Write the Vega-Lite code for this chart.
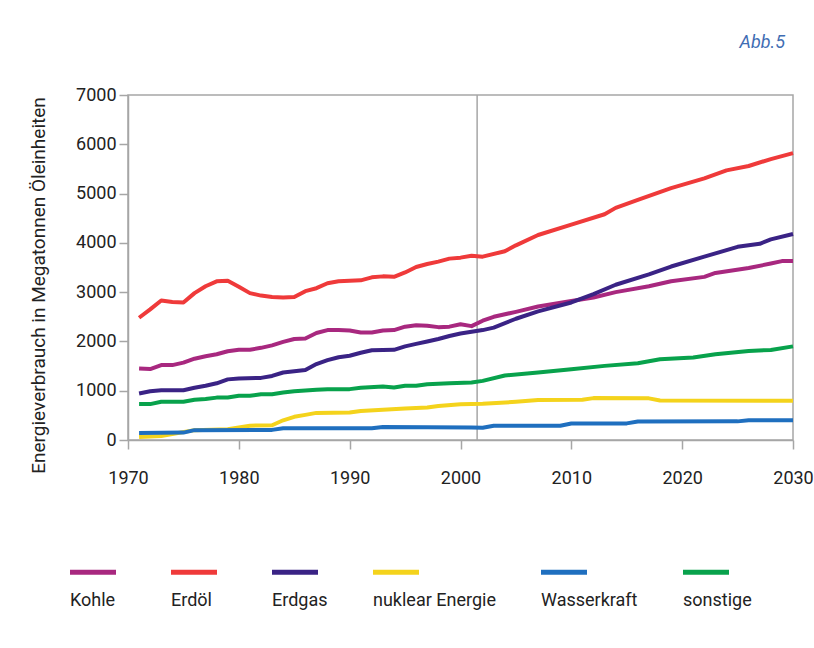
{
  "$schema": "https://vega.github.io/schema/vega-lite/v6.json",
  "width": 665,
  "height": 345,
  "autosize": {"type": "none"},
  "padding": {"left": 128, "top": 95, "right": 21, "bottom": 208},
  "background": "white",
  "title": {"text": "Abb.5", "anchor": "end", "frame": "group", "orient": "top", "font": "Roboto", "fontSize": 18, "fontStyle": "italic", "fontWeight": "normal", "color": "#3f6db3", "dx": -8, "offset": 20, "baseline": "alphabetic"},
  "config": {
    "font": "Roboto",
    "view": {"stroke": "#a6a6a6", "strokeWidth": 1.5},
    "axis": {"grid": false, "domainColor": "#a6a6a6", "domainWidth": 1.5, "tickColor": "#a6a6a6", "tickWidth": 1.5, "labelFont": "Roboto", "labelFontSize": 18, "labelColor": "#222222", "titleFont": "Roboto", "titleColor": "#222222", "titleFontWeight": "normal"}
  },
  "datasets": {
    "energie": [
      {"jahr":1971,"wert":1450,"traeger":"Kohle"},{"jahr":1972,"wert":1440,"traeger":"Kohle"},{"jahr":1973,"wert":1520,"traeger":"Kohle"},{"jahr":1974,"wert":1520,"traeger":"Kohle"},{"jahr":1975,"wert":1570,"traeger":"Kohle"},{"jahr":1976,"wert":1650,"traeger":"Kohle"},{"jahr":1977,"wert":1700,"traeger":"Kohle"},{"jahr":1978,"wert":1740,"traeger":"Kohle"},{"jahr":1979,"wert":1800,"traeger":"Kohle"},{"jahr":1980,"wert":1830,"traeger":"Kohle"},{"jahr":1981,"wert":1830,"traeger":"Kohle"},{"jahr":1982,"wert":1870,"traeger":"Kohle"},{"jahr":1983,"wert":1920,"traeger":"Kohle"},{"jahr":1984,"wert":1990,"traeger":"Kohle"},{"jahr":1985,"wert":2050,"traeger":"Kohle"},{"jahr":1986,"wert":2060,"traeger":"Kohle"},{"jahr":1987,"wert":2170,"traeger":"Kohle"},{"jahr":1988,"wert":2230,"traeger":"Kohle"},{"jahr":1989,"wert":2230,"traeger":"Kohle"},{"jahr":1990,"wert":2220,"traeger":"Kohle"},{"jahr":1991,"wert":2180,"traeger":"Kohle"},{"jahr":1992,"wert":2180,"traeger":"Kohle"},{"jahr":1993,"wert":2220,"traeger":"Kohle"},{"jahr":1994,"wert":2230,"traeger":"Kohle"},{"jahr":1995,"wert":2300,"traeger":"Kohle"},{"jahr":1996,"wert":2330,"traeger":"Kohle"},{"jahr":1997,"wert":2320,"traeger":"Kohle"},{"jahr":1998,"wert":2290,"traeger":"Kohle"},{"jahr":1999,"wert":2300,"traeger":"Kohle"},{"jahr":2000,"wert":2350,"traeger":"Kohle"},{"jahr":2001,"wert":2310,"traeger":"Kohle"},{"jahr":2002,"wert":2420,"traeger":"Kohle"},{"jahr":2003,"wert":2500,"traeger":"Kohle"},{"jahr":2005,"wert":2600,"traeger":"Kohle"},{"jahr":2007,"wert":2710,"traeger":"Kohle"},{"jahr":2010,"wert":2820,"traeger":"Kohle"},{"jahr":2012,"wert":2890,"traeger":"Kohle"},{"jahr":2014,"wert":3000,"traeger":"Kohle"},{"jahr":2017,"wert":3120,"traeger":"Kohle"},{"jahr":2019,"wert":3220,"traeger":"Kohle"},{"jahr":2022,"wert":3310,"traeger":"Kohle"},{"jahr":2023,"wert":3390,"traeger":"Kohle"},{"jahr":2026,"wert":3490,"traeger":"Kohle"},{"jahr":2028,"wert":3580,"traeger":"Kohle"},{"jahr":2029,"wert":3630,"traeger":"Kohle"},{"jahr":2030,"wert":3630,"traeger":"Kohle"},
      {"jahr":1971,"wert":2480,"traeger":"Erdöl"},{"jahr":1972,"wert":2650,"traeger":"Erdöl"},{"jahr":1973,"wert":2830,"traeger":"Erdöl"},{"jahr":1974,"wert":2800,"traeger":"Erdöl"},{"jahr":1975,"wert":2790,"traeger":"Erdöl"},{"jahr":1976,"wert":2980,"traeger":"Erdöl"},{"jahr":1977,"wert":3120,"traeger":"Erdöl"},{"jahr":1978,"wert":3220,"traeger":"Erdöl"},{"jahr":1979,"wert":3230,"traeger":"Erdöl"},{"jahr":1980,"wert":3110,"traeger":"Erdöl"},{"jahr":1981,"wert":2980,"traeger":"Erdöl"},{"jahr":1982,"wert":2930,"traeger":"Erdöl"},{"jahr":1983,"wert":2900,"traeger":"Erdöl"},{"jahr":1984,"wert":2890,"traeger":"Erdöl"},{"jahr":1985,"wert":2900,"traeger":"Erdöl"},{"jahr":1986,"wert":3020,"traeger":"Erdöl"},{"jahr":1987,"wert":3080,"traeger":"Erdöl"},{"jahr":1988,"wert":3180,"traeger":"Erdöl"},{"jahr":1989,"wert":3220,"traeger":"Erdöl"},{"jahr":1990,"wert":3230,"traeger":"Erdöl"},{"jahr":1991,"wert":3240,"traeger":"Erdöl"},{"jahr":1992,"wert":3300,"traeger":"Erdöl"},{"jahr":1993,"wert":3320,"traeger":"Erdöl"},{"jahr":1994,"wert":3310,"traeger":"Erdöl"},{"jahr":1995,"wert":3400,"traeger":"Erdöl"},{"jahr":1996,"wert":3510,"traeger":"Erdöl"},{"jahr":1997,"wert":3570,"traeger":"Erdöl"},{"jahr":1998,"wert":3620,"traeger":"Erdöl"},{"jahr":1999,"wert":3680,"traeger":"Erdöl"},{"jahr":2000,"wert":3700,"traeger":"Erdöl"},{"jahr":2001,"wert":3740,"traeger":"Erdöl"},{"jahr":2002,"wert":3720,"traeger":"Erdöl"},{"jahr":2004,"wert":3830,"traeger":"Erdöl"},{"jahr":2005,"wert":3950,"traeger":"Erdöl"},{"jahr":2007,"wert":4160,"traeger":"Erdöl"},{"jahr":2010,"wert":4370,"traeger":"Erdöl"},{"jahr":2013,"wert":4580,"traeger":"Erdöl"},{"jahr":2014,"wert":4710,"traeger":"Erdöl"},{"jahr":2016,"wert":4870,"traeger":"Erdöl"},{"jahr":2019,"wert":5110,"traeger":"Erdöl"},{"jahr":2022,"wert":5310,"traeger":"Erdöl"},{"jahr":2024,"wert":5470,"traeger":"Erdöl"},{"jahr":2026,"wert":5560,"traeger":"Erdöl"},{"jahr":2028,"wert":5700,"traeger":"Erdöl"},{"jahr":2030,"wert":5820,"traeger":"Erdöl"},
      {"jahr":1971,"wert":945,"traeger":"Erdgas"},{"jahr":1972,"wert":990,"traeger":"Erdgas"},{"jahr":1973,"wert":1010,"traeger":"Erdgas"},{"jahr":1975,"wert":1010,"traeger":"Erdgas"},{"jahr":1976,"wert":1060,"traeger":"Erdgas"},{"jahr":1977,"wert":1100,"traeger":"Erdgas"},{"jahr":1978,"wert":1150,"traeger":"Erdgas"},{"jahr":1979,"wert":1230,"traeger":"Erdgas"},{"jahr":1980,"wert":1250,"traeger":"Erdgas"},{"jahr":1982,"wert":1260,"traeger":"Erdgas"},{"jahr":1983,"wert":1300,"traeger":"Erdgas"},{"jahr":1984,"wert":1370,"traeger":"Erdgas"},{"jahr":1986,"wert":1420,"traeger":"Erdgas"},{"jahr":1987,"wert":1540,"traeger":"Erdgas"},{"jahr":1988,"wert":1620,"traeger":"Erdgas"},{"jahr":1989,"wert":1680,"traeger":"Erdgas"},{"jahr":1990,"wert":1710,"traeger":"Erdgas"},{"jahr":1991,"wert":1770,"traeger":"Erdgas"},{"jahr":1992,"wert":1820,"traeger":"Erdgas"},{"jahr":1994,"wert":1830,"traeger":"Erdgas"},{"jahr":1995,"wert":1900,"traeger":"Erdgas"},{"jahr":1996,"wert":1950,"traeger":"Erdgas"},{"jahr":1997,"wert":2000,"traeger":"Erdgas"},{"jahr":1998,"wert":2050,"traeger":"Erdgas"},{"jahr":1999,"wert":2110,"traeger":"Erdgas"},{"jahr":2000,"wert":2160,"traeger":"Erdgas"},{"jahr":2002,"wert":2230,"traeger":"Erdgas"},{"jahr":2003,"wert":2280,"traeger":"Erdgas"},{"jahr":2005,"wert":2460,"traeger":"Erdgas"},{"jahr":2007,"wert":2610,"traeger":"Erdgas"},{"jahr":2010,"wert":2790,"traeger":"Erdgas"},{"jahr":2012,"wert":2960,"traeger":"Erdgas"},{"jahr":2014,"wert":3150,"traeger":"Erdgas"},{"jahr":2017,"wert":3360,"traeger":"Erdgas"},{"jahr":2019,"wert":3520,"traeger":"Erdgas"},{"jahr":2022,"wert":3720,"traeger":"Erdgas"},{"jahr":2025,"wert":3920,"traeger":"Erdgas"},{"jahr":2027,"wert":3980,"traeger":"Erdgas"},{"jahr":2028,"wert":4070,"traeger":"Erdgas"},{"jahr":2030,"wert":4180,"traeger":"Erdgas"},
      {"jahr":1971,"wert":60,"traeger":"nuklear Energie"},{"jahr":1973,"wert":80,"traeger":"nuklear Energie"},{"jahr":1974,"wert":120,"traeger":"nuklear Energie"},{"jahr":1976,"wert":200,"traeger":"nuklear Energie"},{"jahr":1979,"wert":220,"traeger":"nuklear Energie"},{"jahr":1980,"wert":255,"traeger":"nuklear Energie"},{"jahr":1981,"wert":290,"traeger":"nuklear Energie"},{"jahr":1983,"wert":300,"traeger":"nuklear Energie"},{"jahr":1984,"wert":400,"traeger":"nuklear Energie"},{"jahr":1985,"wert":470,"traeger":"nuklear Energie"},{"jahr":1986,"wert":510,"traeger":"nuklear Energie"},{"jahr":1987,"wert":550,"traeger":"nuklear Energie"},{"jahr":1990,"wert":560,"traeger":"nuklear Energie"},{"jahr":1991,"wert":590,"traeger":"nuklear Energie"},{"jahr":1993,"wert":615,"traeger":"nuklear Energie"},{"jahr":1995,"wert":640,"traeger":"nuklear Energie"},{"jahr":1997,"wert":660,"traeger":"nuklear Energie"},{"jahr":1998,"wert":690,"traeger":"nuklear Energie"},{"jahr":2000,"wert":725,"traeger":"nuklear Energie"},{"jahr":2002,"wert":735,"traeger":"nuklear Energie"},{"jahr":2005,"wert":775,"traeger":"nuklear Energie"},{"jahr":2007,"wert":810,"traeger":"nuklear Energie"},{"jahr":2011,"wert":815,"traeger":"nuklear Energie"},{"jahr":2012,"wert":850,"traeger":"nuklear Energie"},{"jahr":2017,"wert":845,"traeger":"nuklear Energie"},{"jahr":2018,"wert":800,"traeger":"nuklear Energie"},{"jahr":2030,"wert":798,"traeger":"nuklear Energie"},
      {"jahr":1971,"wert":142,"traeger":"Wasserkraft"},{"jahr":1975,"wert":150,"traeger":"Wasserkraft"},{"jahr":1976,"wert":200,"traeger":"Wasserkraft"},{"jahr":1983,"wert":205,"traeger":"Wasserkraft"},{"jahr":1984,"wert":240,"traeger":"Wasserkraft"},{"jahr":1992,"wert":240,"traeger":"Wasserkraft"},{"jahr":1993,"wert":265,"traeger":"Wasserkraft"},{"jahr":2001,"wert":255,"traeger":"Wasserkraft"},{"jahr":2002,"wert":250,"traeger":"Wasserkraft"},{"jahr":2003,"wert":290,"traeger":"Wasserkraft"},{"jahr":2009,"wert":290,"traeger":"Wasserkraft"},{"jahr":2010,"wert":335,"traeger":"Wasserkraft"},{"jahr":2015,"wert":337,"traeger":"Wasserkraft"},{"jahr":2016,"wert":375,"traeger":"Wasserkraft"},{"jahr":2025,"wert":378,"traeger":"Wasserkraft"},{"jahr":2026,"wert":400,"traeger":"Wasserkraft"},{"jahr":2030,"wert":400,"traeger":"Wasserkraft"},
      {"jahr":1971,"wert":728,"traeger":"sonstige"},{"jahr":1972,"wert":728,"traeger":"sonstige"},{"jahr":1973,"wert":775,"traeger":"sonstige"},{"jahr":1975,"wert":775,"traeger":"sonstige"},{"jahr":1976,"wert":815,"traeger":"sonstige"},{"jahr":1977,"wert":830,"traeger":"sonstige"},{"jahr":1978,"wert":860,"traeger":"sonstige"},{"jahr":1979,"wert":863,"traeger":"sonstige"},{"jahr":1980,"wert":896,"traeger":"sonstige"},{"jahr":1981,"wert":896,"traeger":"sonstige"},{"jahr":1982,"wert":930,"traeger":"sonstige"},{"jahr":1983,"wert":930,"traeger":"sonstige"},{"jahr":1984,"wert":964,"traeger":"sonstige"},{"jahr":1985,"wert":990,"traeger":"sonstige"},{"jahr":1987,"wert":1018,"traeger":"sonstige"},{"jahr":1988,"wert":1032,"traeger":"sonstige"},{"jahr":1990,"wert":1032,"traeger":"sonstige"},{"jahr":1991,"wert":1060,"traeger":"sonstige"},{"jahr":1993,"wert":1086,"traeger":"sonstige"},{"jahr":1994,"wert":1066,"traeger":"sonstige"},{"jahr":1995,"wert":1099,"traeger":"sonstige"},{"jahr":1996,"wert":1099,"traeger":"sonstige"},{"jahr":1997,"wert":1133,"traeger":"sonstige"},{"jahr":1999,"wert":1153,"traeger":"sonstige"},{"jahr":2001,"wert":1165,"traeger":"sonstige"},{"jahr":2002,"wert":1200,"traeger":"sonstige"},{"jahr":2004,"wert":1310,"traeger":"sonstige"},{"jahr":2007,"wert":1370,"traeger":"sonstige"},{"jahr":2010,"wert":1436,"traeger":"sonstige"},{"jahr":2013,"wert":1504,"traeger":"sonstige"},{"jahr":2016,"wert":1558,"traeger":"sonstige"},{"jahr":2018,"wert":1639,"traeger":"sonstige"},{"jahr":2021,"wert":1673,"traeger":"sonstige"},{"jahr":2023,"wert":1740,"traeger":"sonstige"},{"jahr":2026,"wert":1807,"traeger":"sonstige"},{"jahr":2028,"wert":1827,"traeger":"sonstige"},{"jahr":2030,"wert":1900,"traeger":"sonstige"}
    ],
    "marke": [{"jahr": 2001.5}]
  },
  "layer": [
    {
      "data": {"name": "marke"},
      "mark": {"type": "rule", "color": "#a6a6a6", "strokeWidth": 1.5},
      "encoding": {
        "x": {"field": "jahr", "type": "quantitative", "scale": {"domain": [1970, 2030], "nice": false, "zero": false}}
      }
    },
    {
      "data": {"name": "energie"},
      "mark": {"type": "line", "strokeWidth": 4, "strokeJoin": "round", "strokeCap": "butt"},
      "encoding": {
        "x": {"field": "jahr", "type": "quantitative", "scale": {"domain": [1970, 2030], "nice": false, "zero": false},
              "axis": {"values": [1970, 1980, 1990, 2000, 2010, 2020, 2030], "format": "d", "tickSize": 9, "labelPadding": 20, "title": null, "labelFlush": false, "labelOverlap": false}},
        "y": {"field": "wert", "type": "quantitative", "scale": {"domain": [0, 7000], "nice": false},
              "axis": {"values": [0, 1000, 2000, 3000, 4000, 5000, 6000, 7000], "format": "d", "tickSize": 9, "labelPadding": 3, "title": "Energieverbrauch in Megatonnen Öleinheiten", "titleFontSize": 19, "titlePadding": 27, "titleY": 190}},
        "color": {"field": "traeger", "type": "nominal",
                  "scale": {"domain": ["Kohle", "Erdöl", "Erdgas", "nuklear Energie", "Wasserkraft", "sonstige"],
                            "range": ["#a8287f", "#ef3a3a", "#3a2385", "#f4d31c", "#1f6fbf", "#08a24c"]},
                  "legend": {"orient": "none", "legendX": -60.5, "legendY": 451.5, "direction": "horizontal", "columns": 6, "title": null,
                             "symbolType": "stroke", "symbolSize": 2116, "symbolStrokeWidth": 5, "labelOffset": -48.5,
                             "labelBaseline": "top", "labelExpr": "['', datum.label]", "gridAlign": "each", "columnPadding": 34,
                             "labelFont": "Roboto", "labelFontSize": 18, "labelColor": "#222222", "labelLimit": 300}}
      }
    }
  ]
}
